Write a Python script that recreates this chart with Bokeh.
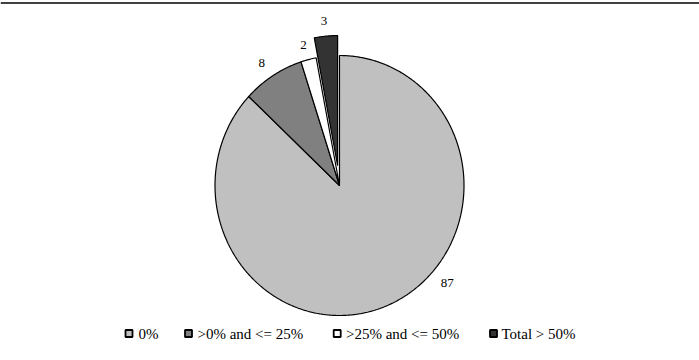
import math
from bokeh.plotting import figure
from bokeh.models import Range1d, ColumnDataSource, Span
from bokeh.core.properties import value
from bokeh.embed import file_html
from bokeh.resources import INLINE

# ---- data ----
categories = ["0%", ">0% and <= 25%", ">25% and <= 50%", "Total > 50%"]
values = [87, 8, 2, 3]
labels = ["87", "8", "2", "3"]

# ---- style ----
colors = ["#c0c0c0", "#808080", "#ffffff", "#333333"]
explode = [0, 0, 0, 20]
label_override_deg = [132.0, None, None, None]  # clockwise from top
label_r = 145
cx, cy, rx, ry = 339.0, 185.0, 124.5, 130.0
font = value("Liberation Serif")

p = figure(width=699, height=360, output_backend="svg", toolbar_location=None,
           x_range=Range1d(0, 699), y_range=Range1d(360, 0), min_border=0)
p.axis.visible = False
p.grid.visible = False
p.outline_line_color = None
p.background_fill_color = "white"
p.border_fill_color = "white"

total = float(sum(values))
xs, ys = [], []
lx, ly = [], []
cum = 0.0
for i, v in enumerate(values):
    a0 = cum / total * 360.0
    a1 = (cum + v) / total * 360.0
    cum += v
    mid = math.radians((a0 + a1) / 2)
    ox = explode[i] * math.sin(mid)
    oy = -explode[i] * math.cos(mid)
    n = max(4, int((a1 - a0) * 2))
    px = [cx + ox]
    py = [cy + oy]
    for k in range(n + 1):
        a = math.radians(a0 + (a1 - a0) * k / n)
        px.append(cx + ox + rx * math.sin(a))
        py.append(cy + oy - ry * math.cos(a))
    xs.append(px)
    ys.append(py)
    la = math.radians(label_override_deg[i]) if label_override_deg[i] is not None else mid
    r = label_r + explode[i]
    lx.append(cx + r * math.sin(la))
    ly.append(cy - r * math.cos(la))

src = ColumnDataSource(dict(xs=xs, ys=ys, color=colors))
p.patches("xs", "ys", source=src, fill_color="color", line_color="black", line_width=1.2)

p.text(lx, ly, text=labels, text_font=font, text_font_size="13px",
       text_align="center", text_baseline="middle", text_color="black")

# top rule
p.add_layout(Span(location=2.5, dimension="width", line_color="black", line_width=1.5))

# legend
sq_x = [128.5, 188.0, 336.7, 493.0]
tx_x = [138.0, 197.0, 345.5, 501.0]
leg_y = 333.0
p.rect(sq_x, [leg_y] * 4, width=7, height=7, fill_color=colors,
       line_color="black", line_width=1.8)
p.text(tx_x, [leg_y] * 4, text=categories, text_font=font, text_font_size="15px",
       text_align="left", text_baseline="middle", text_color="black")

open("out.html", "w").write(file_html(p, INLINE))
